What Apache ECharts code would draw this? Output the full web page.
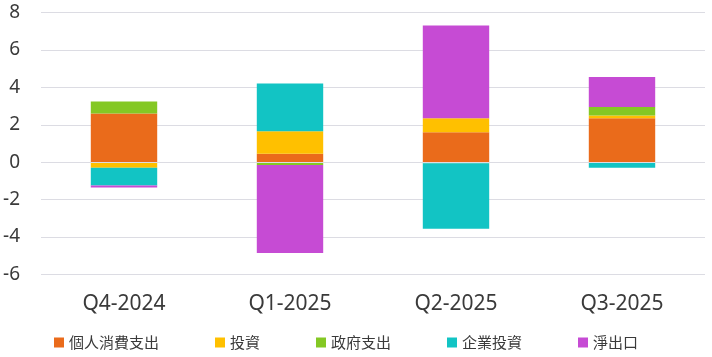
<!DOCTYPE html>
<html><head><meta charset="utf-8">
<script src="https://cdn.jsdelivr.net/npm/echarts@6/dist/echarts.min.js"></script>
<style>html,body{margin:0;padding:0;background:#fff}#c{width:712px;height:357px}</style>
</head><body><div id="c"></div>
<script>
const categories = ['Q4-2024', 'Q1-2025', 'Q2-2025', 'Q3-2025'];
const seriesNames = ['個人消費支出', '投資', '政府支出', '企業投資', '淨出口'];
const consumption = [2.6, 0.45, 1.6, 2.35];
const investment = [-0.3, 1.2, 0.75, 0.15];
const government = [0.65, -0.15, -0.05, 0.45];
const business = [-0.95, 2.55, -3.5, -0.3];
const netExports = [-0.1, -4.7, 4.95, 1.6];
const yTicks = { min: -6, max: 8, interval: 2 };

const colors = ['#EA6B1B', '#FFC000', '#84C824', '#12C4C4', '#C64BD4'];
const values = [consumption, investment, government, business, netExports];
const fontLatin = '"Noto Sans", "Noto Sans CJK TC", sans-serif';
const fontCJK = '"Noto Sans CJK TC", sans-serif';

const chart = echarts.init(document.getElementById('c'), null, { renderer: 'canvas' });
const series = values.map((v, i) => {
  const s = {
    name: seriesNames[i], type: 'bar', stack: 'total', data: v,
    barWidth: '40%', itemStyle: { color: colors[i] }, z: 2
  };
  if (i === values.length - 1) {
    s.markLine = {
      silent: true, symbol: 'none', label: { show: false },
      lineStyle: { color: '#dcdce3', width: 1.2, type: 'solid' },
      data: [{ yAxis: 0 }], animation: false
    };
  }
  return s;
});

chart.setOption({
  animation: false,
  color: colors,
  grid: { left: 41, right: 7, top: 12.5, bottom: 82.5 },
  legend: {
    data: seriesNames, left: 54, top: 335, padding: 0,
    icon: 'rect', itemWidth: 10, itemHeight: 10, itemGap: 56,
    textStyle: { fontFamily: fontCJK, fontSize: 15, color: '#3a3a3a' }
  },
  xAxis: {
    type: 'category', data: categories,
    axisLine: { show: false, onZero: false }, axisTick: { show: false },
    axisLabel: { fontFamily: fontLatin, fontSize: 21, color: '#3a3a3a', margin: 19 }
  },
  yAxis: {
    type: 'value', min: yTicks.min, max: yTicks.max, interval: yTicks.interval,
    axisLine: { show: false }, axisTick: { show: false },
    splitLine: { lineStyle: { color: '#dcdce3', width: 1.2 } },
    axisLabel: { fontFamily: fontLatin, fontSize: 19, color: '#3a3a3a', margin: 21 }
  },
  series: series
});
</script></body></html>
